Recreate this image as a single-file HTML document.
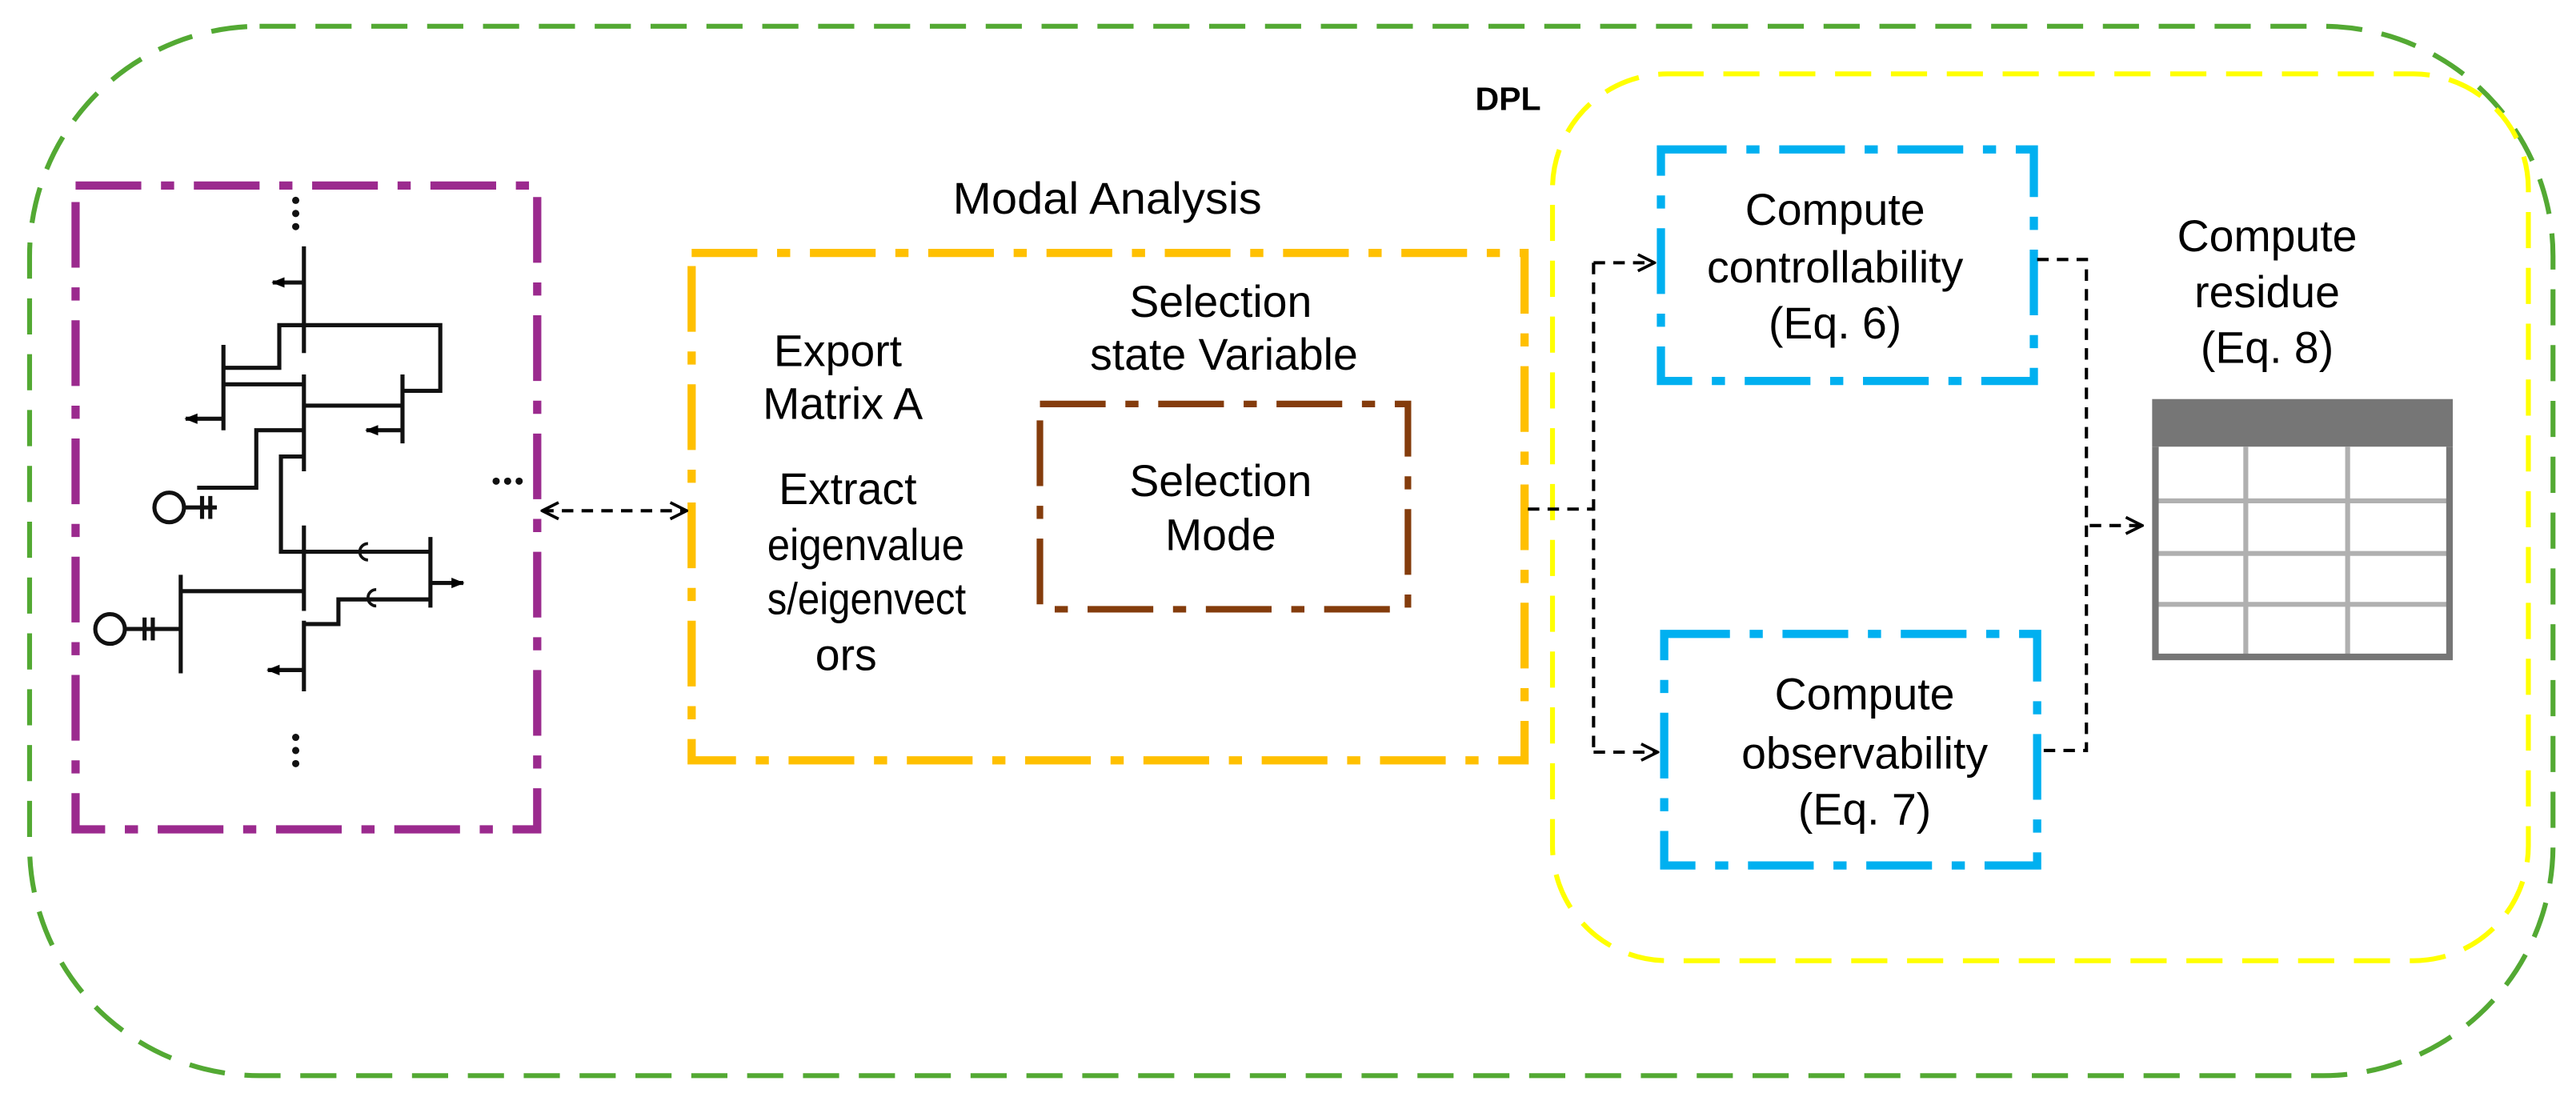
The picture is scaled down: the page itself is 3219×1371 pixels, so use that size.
<!DOCTYPE html>
<html><head><meta charset="utf-8"><style>
html,body{margin:0;padding:0;background:#fff;}
svg{display:block;}
text{font-family:"Liberation Sans",Arial,sans-serif;fill:#000;}
</style></head><body>
<svg width="3219" height="1371" viewBox="0 0 1568 668" preserveAspectRatio="none" xmlns="http://www.w3.org/2000/svg">
<defs>
<marker id="ah" viewBox="0 0 12 12" refX="11" refY="6" markerWidth="12" markerHeight="12" markerUnits="userSpaceOnUse" orient="auto-start-reverse">
<path d="M1,1 L11,6 L1,11" fill="none" stroke="#000" stroke-width="1.8"/></marker>
<marker id="ca" viewBox="0 0 10 10" refX="9" refY="5" markerWidth="8" markerHeight="8" markerUnits="userSpaceOnUse" orient="auto"><path d="M0,1 L10,5 L0,9 Z" fill="#000"/></marker>
</defs>
<rect x="18" y="16" width="1536" height="639" rx="140" fill="none" stroke="#53a933" stroke-width="3" stroke-dasharray="22,12"/>
<rect x="945" y="45" width="594" height="540" rx="70" fill="none" stroke="#ffff00" stroke-width="3" stroke-dasharray="22,12"/>
<text x="918" y="67" font-size="20" font-weight="bold" text-anchor="middle">DPL</text>
<rect x="46" y="113" width="281" height="392" fill="none" stroke="#9b2a8e" stroke-width="5" stroke-dasharray="40,12,8,12"/>
<rect x="421" y="154" width="507" height="309" fill="none" stroke="#ffc000" stroke-width="5" stroke-dasharray="40,12,8,12"/>
<text x="580" y="130" font-size="27" textLength="188" lengthAdjust="spacingAndGlyphs">Modal Analysis</text>
<g font-size="27" text-anchor="middle">
<text x="510" y="223">Export</text><text x="513" y="255">Matrix A</text>
<text x="516" y="307">Extract</text>
<text x="467" y="341" text-anchor="start" textLength="120" lengthAdjust="spacingAndGlyphs">eigenvalue</text>
<text x="467" y="374" text-anchor="start" textLength="121" lengthAdjust="spacingAndGlyphs">s/eigenvect</text>
<text x="515" y="408">ors</text>
<text x="743" y="193">Selection</text><text x="745" y="225">state Variable</text>
<text x="743" y="302">Selection</text><text x="743" y="335">Mode</text>
</g>
<rect x="633" y="246" width="224" height="125" fill="none" stroke="#843c0c" stroke-width="4" stroke-dasharray="40,12,8,12"/>
<rect x="1011" y="91" width="227" height="141" fill="none" stroke="#00b0f0" stroke-width="5" stroke-dasharray="40,12,8,12"/>
<rect x="1013" y="386" width="227" height="141" fill="none" stroke="#00b0f0" stroke-width="5" stroke-dasharray="40,12,8,12"/>
<g font-size="27" text-anchor="middle">
<text x="1117" y="137">Compute</text><text x="1117" y="172">controllability</text><text x="1117" y="206">(Eq. 6)</text>
<text x="1135" y="432">Compute</text><text x="1135" y="468">observability</text><text x="1135" y="502">(Eq. 7)</text>
<text x="1380" y="153">Compute</text><text x="1380" y="187">residue</text><text x="1380" y="221">(Eq. 8)</text>
</g>
<rect x="1310" y="243" width="183" height="29" fill="#767676"/>
<g stroke="#b0b0b0" stroke-width="3">
<line x1="1313" y1="305" x2="1490" y2="305"/><line x1="1313" y1="337" x2="1490" y2="337"/><line x1="1313" y1="368" x2="1490" y2="368"/>
<line x1="1367" y1="272" x2="1367" y2="400"/><line x1="1429" y1="272" x2="1429" y2="400"/>
</g>
<path d="M1312,272 V400 H1491 V272" fill="none" stroke="#767676" stroke-width="4"/>
<g fill="none" stroke="#000" stroke-width="2" stroke-dasharray="7,5">
<line x1="330" y1="311" x2="418" y2="311" marker-start="url(#ah)" marker-end="url(#ah)"/>
<path d="M930,310 H970"/>
<path d="M970,160 V458"/>
<path d="M970,160 H1007" marker-end="url(#ah)"/>
<path d="M970,458 H1009" marker-end="url(#ah)"/>
<path d="M1240,158 H1270 V457 H1242"/>
<path d="M1272,320 H1304" marker-end="url(#ah)"/>
</g>
<g fill="none" stroke="#111" stroke-width="2.5">
<line x1="185" y1="150" x2="185" y2="215"/>
<line x1="185" y1="172" x2="166" y2="172" marker-end="url(#ca)"/>
<path d="M185,198 H268 V238 H245"/>
<path d="M185,198 H170 V224 H136"/>
<line x1="136" y1="210" x2="136" y2="262"/>
<line x1="136" y1="255" x2="113" y2="255" marker-end="url(#ca)"/>
<line x1="136" y1="234" x2="185" y2="234"/>
<line x1="185" y1="228" x2="185" y2="287"/>
<line x1="185" y1="247" x2="245" y2="247"/>
<line x1="245" y1="228" x2="245" y2="270"/>
<line x1="245" y1="262" x2="223" y2="262" marker-end="url(#ca)"/>
<path d="M185,262 H156 V297 H120"/>
<circle cx="103" cy="309" r="9"/>
<path d="M112,309 H132 M123,302 V316 M128,302 V316"/>
<path d="M185,278 H171 V336 H262"/>
<line x1="185" y1="320" x2="185" y2="372"/>
<line x1="262" y1="327" x2="262" y2="370"/>
<line x1="262" y1="355" x2="282" y2="355" marker-end="url(#ca)"/>
<line x1="110" y1="350" x2="110" y2="410"/>
<line x1="110" y1="360" x2="185" y2="360"/>
<circle cx="67" cy="383" r="9"/>
<path d="M76,383 H110 M88,376 V390 M93,376 V390"/>
<path d="M262,365 H206 V380 H185"/>
<line x1="185" y1="378" x2="185" y2="421"/>
<line x1="185" y1="408" x2="163" y2="408" marker-end="url(#ca)"/>
<path d="M224,331 a5,5 0 0 0 0,10 M229,359 a5,5 0 0 0 0,10" stroke-width="1.8"/>
</g>
<g fill="#111">
<circle cx="180" cy="122" r="2.2"/><circle cx="180" cy="130" r="2.2"/><circle cx="180" cy="138" r="2.2"/>
<circle cx="180" cy="449" r="2.2"/><circle cx="180" cy="457" r="2.2"/><circle cx="180" cy="465" r="2.2"/>
<circle cx="302" cy="293" r="2.2"/><circle cx="309" cy="293" r="2.2"/><circle cx="316" cy="293" r="2.2"/>
</g>
</svg>
</body></html>
